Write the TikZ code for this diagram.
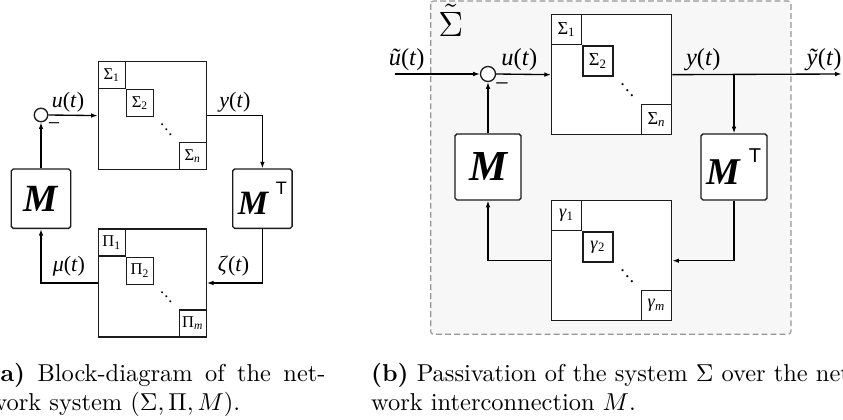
\documentclass[tikz,border=0pt]{standalone}
\usepackage{fontspec}
\usetikzlibrary{positioning, arrows.meta, calc}
\newfontfamily\lblfont{Liberation Serif}
\newfontfamily\topfont{Liberation Sans}
\definecolor{figink}{HTML}{1C1C1C}
\definecolor{figframe}{HTML}{969696}
\definecolor{figback}{HTML}{F7F7F7}
\newcommand{\tsig}[1]{\textit{#1}(\textit{t})}
\newcommand{\dgdots}{.\raisebox{-2.2pt}{.}\raisebox{-4.4pt}{.}}
\newcommand{\Mtop}{{\fontsize{15.5}{18}\selectfont M}\hspace{3.5pt}%
  \raisebox{9.1pt}{\topfont\mdseries\upshape\fontsize{8.2}{9}\selectfont T}}

\begin{document}
\begin{tikzpicture}[
  x=0.40935pt, y=-0.40935pt,
  line width=0.55pt, line join=miter,
  >={Latex[length=2.7pt, width=1.9pt]},
  plant/.style = {draw=figink, fill=white, minimum size=49.12pt, inner sep=0pt,
                  anchor=north west},
  cell/.style  = {draw=figink, fill=white, minimum size=12.28pt, inner sep=0pt,
                  anchor=north west, font=\lblfont\fontsize{7.5}{9}\selectfont},
  gain/.style  = {draw=figink, fill=white, minimum size=27.02pt, inner sep=0pt,
                  rounded corners=0.8pt,
                  font=\lblfont\fontsize{17.5}{20}\selectfont\bfseries\itshape},
  sum/.style   = {draw=figink, fill=white, circle, minimum size=6.14pt, inner sep=0pt},
  sig/.style   = {font=\lblfont\fontsize{10}{12}\selectfont, inner sep=0pt},
  ellip/.style = {font=\lblfont\fontsize{7.5}{9}\selectfont, inner sep=0pt},
  capt/.style  = {anchor=base west, inner sep=0pt, font=\fontsize{10}{12}\selectfont}
]
\useasboundingbox (0,0) rectangle (843,420);

% (a) Netzwerk
\begin{scope}[shift={(97.7,61)}, scale=0.9, transform shape]
  \node[plant] (sigA) at (0,0) {};
  \node[cell] (sA1) at (sigA.north west) {Σ\textsubscript{1}};
  \node[cell] (sA2) at (sA1.south east) {Σ\textsubscript{2}};
  \node[cell, anchor=south east] (sAn) at (sigA.south east) {Σ\textsubscript{\textit{n}}};
  \node[ellip] (dA) at ($(sA2.south east)!0.5!(sAn.north west)$) {\dgdots};

  \node[plant] (piA) at (0,186) {};
  \node[cell] (pA1) at (piA.north west) {Π\textsubscript{1}};
  \node[cell] (pA2) at (pA1.south east) {Π\textsubscript{2}};
  \node[cell, anchor=south east] (pAm) at (piA.south east) {Π\textsubscript{\textit{m}}};
  \node[ellip] (eA) at ($(pA2.south east)!0.5!(pAm.north west)$) {\dgdots};

  \node[sum] (sumA) at (-63,60) {};
  \node[gain] (mA) at (-63,153) {M};
  \node[gain, font=\lblfont\bfseries\itshape] (mtA) at (183,153) {\Mtop};

  \draw[->] (sumA.east) -- (sigA.west);
  \draw[->] (sigA.east) -| (mtA.north);
  \draw[->] (mtA.south) |- (piA.east);
  \draw[->] (piA.west) -| (mA.south);
  \draw[->] (mA.north) -- (sumA.south);

  \node[sig] (uA) at (-33,46) {\tsig{u}};
  \node[sig] (yA) at (152.5,46) {\tsig{y}};
  \node[sig] (muA) at (-32,227.5) {\tsig{μ}};
  \node[sig] (zeA) at (151,227.5) {\tsig{ζ}};
  \node[sig] (negA) at (-48.5,73) {−};
\end{scope}

% (b) Passivierung
\draw[figframe, fill=figback, line width=0.45pt, dash pattern=on 2.4pt off 1.3pt,
      rounded corners=1.2pt] (430.7,1) rectangle (791,334.3);

\begin{scope}[shift={(551,14)}]
  \node[plant] (sigB) at (0,0) {};
  \node[cell] (sB1) at (sigB.north west) {Σ\textsubscript{1}};
  \node[cell] (sB2) at (sB1.south east) {Σ\textsubscript{2}};
  \node[cell, anchor=south east] (sBn) at (sigB.south east) {Σ\textsubscript{\textit{n}}};
  \node[ellip] (dB) at ($(sB2.south east)!0.5!(sBn.north west)$) {\dgdots};

  \node[plant] (gamB) at (0,186) {};
  \node[cell] (gB1) at (gamB.north west) {\textit{γ}\textsubscript{1}};
  \node[cell] (gB2) at (gB1.south east) {\textit{γ}\textsubscript{2}};
  \node[cell, anchor=south east] (gBm) at (gamB.south east) {\textit{γ}\textsubscript{\textit{m}}};
  \node[ellip] (eB) at ($(gB2.south east)!0.5!(gBm.north west)$) {\dgdots};

  \node[sum] (sumB) at (-63,60) {};
  \node[gain] (mB) at (-63,153) {M};
  \node[gain, font=\lblfont\bfseries\itshape] (mtB) at (183,153) {\Mtop};
  \coordinate (inB) at (-156,60);
  \coordinate (outB) at (290.7,60);

  \draw[->] (inB) -- (sumB.west);
  \draw[->] (sumB.east) -- (sigB.west);
  \draw[->] (sigB.east) -- (outB);
  \draw[->] (sigB.east -| mtB.north) -- (mtB.north);
  \draw[->] (mtB.south) |- (gamB.east);
  \draw[->] (gamB.west) -| (mB.south);
  \draw[->] (mB.north) -- (sumB.south);

  \node[sig] (uinB) at (-144.3,46) {\tsig{ũ}};
  \node[sig] (uB) at (-31.7,46) {\tsig{u}};
  \node[sig] (yB) at (152.3,46) {\tsig{y}};
  \node[sig] (youtB) at (273,46) {\tsig{ỹ}};
  \node[sig] (negB) at (-49,73) {−};
  \node[sig, font=\fontsize{13.5}{16}\selectfont] (stB) at (-100.3,6.5) {$\tilde{\Sigma}$};
\end{scope}

% Bildunterschriften
\node[capt] (capA1) at (-11,382) {\makebox[137.5pt][s]{\textbf{(a)} Block-diagram of the net-}};
\node[capt] (capA2) at (-11,411) {work system ($\Sigma, \Pi, M$).};
\node[capt] (capB1) at (370.5,382) {\textbf{(b)} Passivation of the system $\Sigma$ over the net-};
\node[capt] (capB2) at (370.5,411) {work interconnection $M$.};

\end{tikzpicture}
\end{document}
